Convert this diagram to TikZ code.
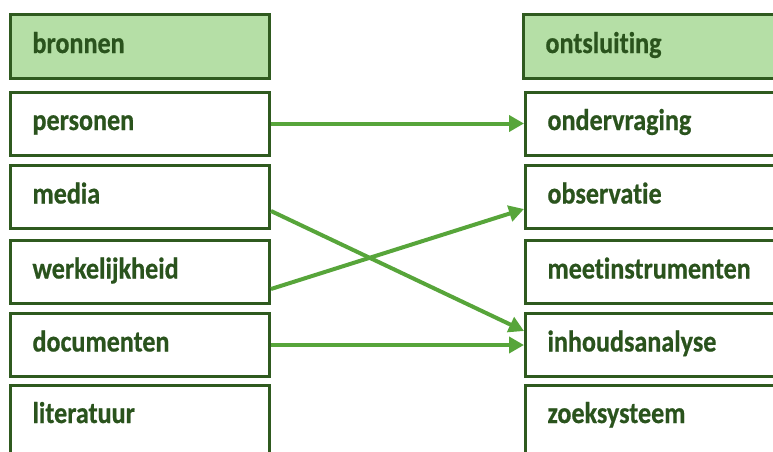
\documentclass[tikz,border=0pt]{standalone}
\usepackage{fontspec}
\newfontfamily\boxfont{Carlito}[FakeStretch=0.87,Ligatures=NoCommon,FakeBold=0.6]
\usetikzlibrary{arrows.meta}
\definecolor{bordergreen}{HTML}{2F5A1F}
\definecolor{textgreen}{HTML}{2A531D}
\definecolor{headfill}{HTML}{B5DFA6}
\definecolor{arrowgreen}{HTML}{57A53A}
\tikzset{
  boxtext/.style={font=\boxfont\bfseries\fontsize{30}{30}\selectfont, text=textgreen, text height=20pt, text depth=7pt},
  itembox/.style={draw=bordergreen, line width=3pt, fill=white, minimum width=259pt, minimum height=63pt,
    inner xsep=22pt, text width=215pt, align=left, boxtext},
  headbox/.style={itembox, fill=headfill, minimum height=64pt},
  tallbox/.style={draw=bordergreen, line width=3pt, fill=white, minimum width=259pt, minimum height=80pt},
  labeltext/.style={boxtext, inner xsep=22pt, text width=215pt, align=left, minimum height=63pt, minimum width=259pt},
  conn/.style={draw=arrowgreen, line width=4pt, -{Triangle[length=15pt,width=16pt]}}
}
\begin{document}
\begin{tikzpicture}[x=1pt,y=-1pt]
\useasboundingbox (0,0) rectangle (773,452);
% left column
\node[headbox] (bronnen) at (140,46.5) {bronnen};
\node[itembox] (personen) at (140,123.5) {personen};
\node[itembox] (media) at (140,197) {media};
\node[itembox] (werkelijkheid) at (140,272) {werkelijkheid};
\node[itembox] (documenten) at (140,345) {documenten};
\node[tallbox] (literatuurbox) at (140,425.5) {};
\node[labeltext] (literatuur) at (140,416.5) {literatuur};
% right column
\node[headbox] (ontsluiting) at (653,46.5) {ontsluiting};
\node[itembox] (ondervraging) at (655,123.5) {ondervraging};
\node[itembox] (observatie) at (655,197) {observatie};
\node[itembox] (meetinstrumenten) at (655,272) {meetinstrumenten};
\node[itembox] (inhoudsanalyse) at (655,345) {inhoudsanalyse};
\node[tallbox] (zoeksysteembox) at (655,425.5) {};
\node[labeltext] (zoeksysteem) at (655,416.5) {zoeksysteem};
% connectors
\draw[conn] (personen.east) -- (ondervraging.west);
\draw[conn] ([yshift=-14pt]media.east) -- ([yshift=14pt]inhoudsanalyse.west);
\draw[conn] ([yshift=-17pt]werkelijkheid.east) -- ([yshift=-12pt]observatie.west);
\draw[conn] (documenten.east) -- (inhoudsanalyse.west);
\end{tikzpicture}
\end{document}
